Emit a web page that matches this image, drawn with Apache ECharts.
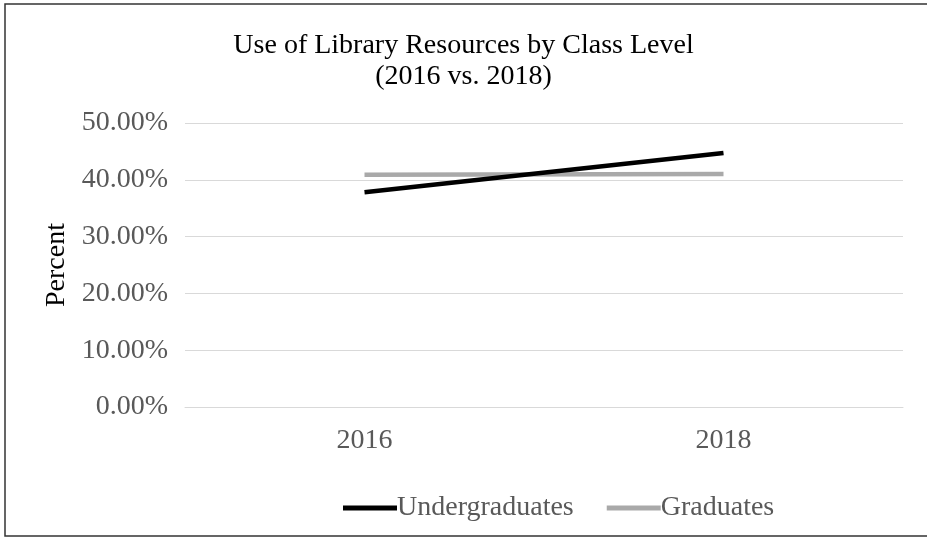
<!DOCTYPE html>
<html><head><meta charset="utf-8">
<script src="https://cdn.jsdelivr.net/npm/echarts@6/dist/echarts.min.js"></script>
<style>html,body{margin:0;padding:0;background:#fff}#c{width:927px;height:538px}</style>
</head><body><div id="c"></div>
<script>
const categories = ['2016', '2018'];
const undergraduates = [37.8, 44.7];
const graduates = [40.9, 41.0];
const yTicks = [0, 10, 20, 30, 40, 50];
const seriesNames = ['Undergraduates', 'Graduates'];

const chart = echarts.init(document.getElementById('c'));
const font = 'Liberation Serif';
chart.setOption({
  backgroundColor: '#fff',
  animation: false,
  graphic: [{
    type: 'rect', shape: { x: 5, y: 4, width: 960, height: 532 },
    style: { fill: 'none', stroke: '#333', lineWidth: 1.5 }, silent: true
  }],
  title: {
    text: 'Use of Library Resources by Class Level\n(2016 vs. 2018)',
    left: 'center', top: 25,
    textStyle: { fontFamily: font, fontSize: 28, fontWeight: 'normal', color: '#000', lineHeight: 31 }
  },
  legend: {
    left: 338, top: 489,
    icon: 'rect', itemWidth: 54, itemHeight: 5, itemGap: 33,
    textStyle: { fontFamily: font, fontSize: 28, color: '#595959', padding: [0, 0, 0, -5] },
    data: seriesNames
  },
  grid: { left: 185, right: 24, top: 123, bottom: 131 },
  xAxis: {
    type: 'category', data: categories, boundaryGap: true,
    axisLine: { lineStyle: { color: '#d9d9d9', width: 1 } },
    axisTick: { show: false },
    axisLabel: { fontFamily: font, fontSize: 28, color: '#595959', margin: 20 }
  },
  yAxis: {
    type: 'value', min: yTicks[0], max: yTicks[yTicks.length - 1], interval: 10,
    name: 'Percent', nameLocation: 'middle', nameGap: 114, nameRotate: 90,
    nameTextStyle: { fontFamily: font, fontSize: 28, color: '#000' },
    axisLine: { show: false }, axisTick: { show: false },
    splitLine: { lineStyle: { color: '#d9d9d9', width: 1 } },
    axisLabel: { fontFamily: font, fontSize: 28, color: '#595959', margin: 17,
      formatter: v => v.toFixed(2) + '%' }
  },
  series: [
    { name: seriesNames[0], type: 'line', data: undergraduates, symbol: 'none',
      lineStyle: { color: '#000', width: 4.5 }, itemStyle: { color: '#000' }, z: 3 },
    { name: seriesNames[1], type: 'line', data: graduates, symbol: 'none',
      lineStyle: { color: '#a9a9a9', width: 4.5 }, itemStyle: { color: '#a9a9a9' }, z: 2 }
  ]
});
</script></body></html>
